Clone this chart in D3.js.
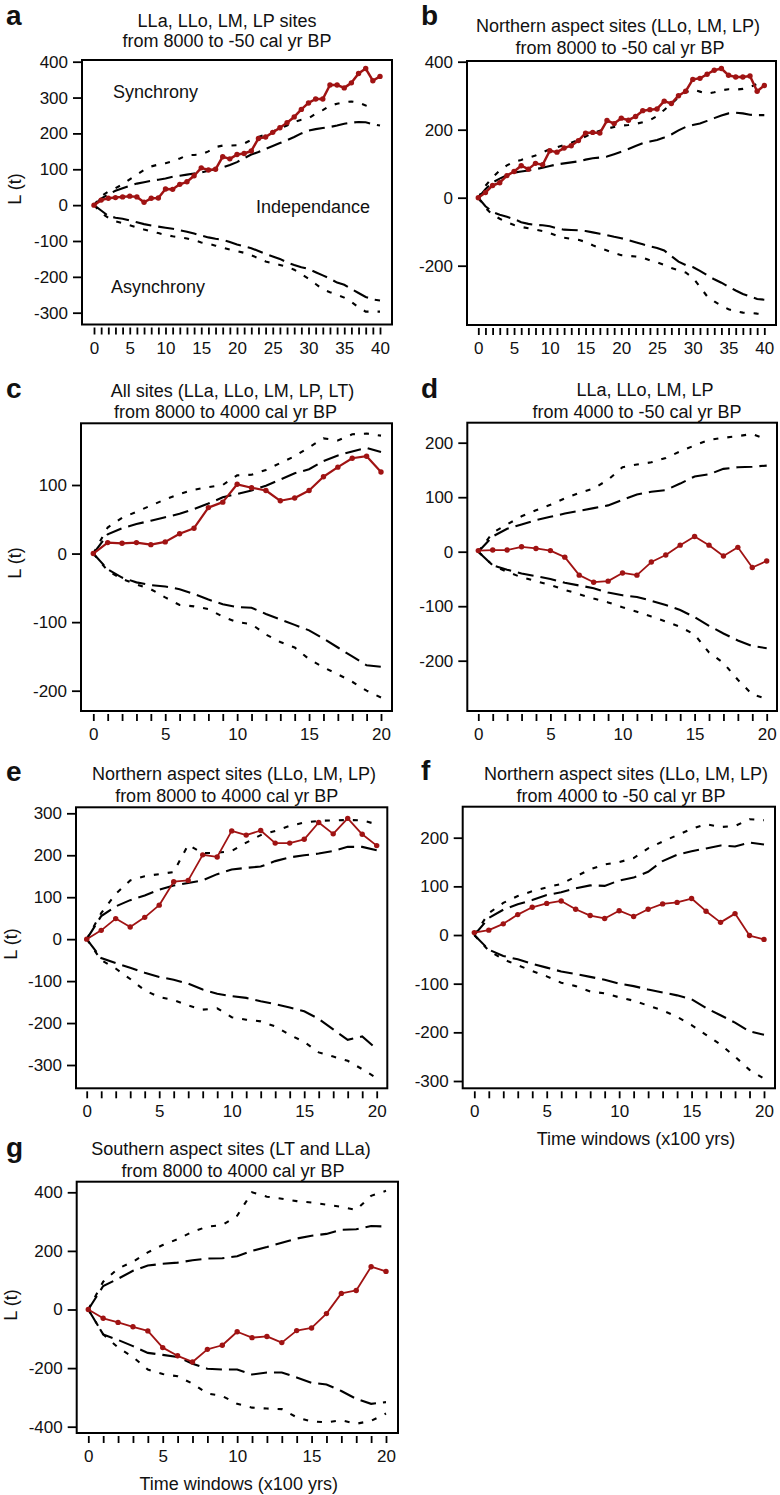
<!DOCTYPE html>
<html>
<head>
<meta charset="utf-8">
<script src="https://cdn.jsdelivr.net/npm/d3@7"></script>
<style>
  body { margin: 0; background: #fff; }
  svg text { font-family: "Liberation Sans", Arial, sans-serif; fill: #111; }
</style>
</head>
<body>
<div id="chart"></div>
<script>

// a) LLa, LLo, LM, LP, 8000 to -50
const obsA = [0,14,19,21,23,25,23,8,19,20,45,44,58,65,82,104,98,100,135,129,141,144,151,186,190,203,216,230,246,267,285,296,296,335,335,327,341,367,381,347,359];
const hiDotA = [0,25,38,47,58,72,85,98,108,113,117,122,130,139,140,141,150,162,166,166,167,172,182,190,197,205,214,222,232,238,242,255,265,277,283,287,289,286,278,272];
const hiDashA = [0,18,30,40,47,54,60,64,68,71,74,79,82,85,88,91,96,100,105,112,120,131,141,148,157,165,173,181,190,200,208,212,215,218,222,227,230,232,231,226,222];
const loDashA = [0,-15,-30,-35,-38,-43,-48,-53,-57,-60,-63,-66,-70,-74,-79,-85,-90,-94,-97,-103,-110,-115,-120,-128,-136,-143,-150,-160,-167,-173,-178,-187,-196,-205,-216,-222,-234,-245,-256,-263,-266];
const loDotA = [0,-22,-35,-45,-50,-56,-62,-68,-73,-78,-83,-87,-90,-93,-98,-104,-108,-113,-119,-124,-128,-133,-140,-148,-157,-162,-167,-172,-180,-192,-205,-220,-235,-243,-250,-258,-270,-285,-297,-297,-297];

// b) Northern aspect, 8000 to -50
const obsB = [0,15,36,44,65,77,94,84,101,97,138,134,146,153,168,190,192,190,227,218,234,228,239,256,259,261,284,277,300,313,348,351,363,375,380,360,355,355,358,313,330];
const hiDotB = [0,35,60,80,95,106,111,118,124,133,143,148,155,162,170,180,190,197,203,208,212,214,217,222,228,240,258,276,295,310,318,312,306,310,316,319,318,320,325,335,330];
const hiDashB = [0,25,45,56,66,74,77,80,84,88,93,98,101,104,107,112,116,118,121,128,135,143,152,160,165,170,177,186,198,208,214,218,226,234,242,248,250,248,244,243,243];
const loDashB = [0,-25,-42,-50,-56,-63,-72,-77,-80,-81,-84,-90,-94,-95,-96,-98,-102,-106,-110,-115,-119,-125,-131,-137,-143,-148,-155,-172,-188,-198,-204,-215,-228,-240,-250,-262,-273,-283,-290,-298,-300];
const loDotB = [0,-30,-50,-62,-72,-80,-86,-90,-94,-98,-104,-112,-118,-121,-124,-130,-140,-148,-155,-163,-169,-171,-173,-176,-184,-190,-198,-207,-213,-220,-235,-262,-290,-305,-318,-328,-334,-338,-339,-341,-342];

// c) All sites, 8000 to 4000
const obsC = [0,16,15,16,13,17,29,37,67,75,101,96,92,77,81,92,112,126,139,142,119];
const hiDotC = [0,38,52,61,70,79,87,93,97,100,114,115,122,132,142,155,168,165,174,175,172];
const hiDashC = [0,28,37,43,48,53,58,65,73,82,87,92,99,108,117,123,135,143,149,154,148];
const loDashC = [0,-23,-35,-42,-46,-48,-52,-59,-67,-74,-78,-79,-88,-96,-104,-112,-124,-137,-150,-163,-165];
const loDotC = [0,-25,-37,-45,-52,-64,-75,-77,-81,-92,-100,-103,-118,-129,-137,-154,-166,-176,-187,-200,-210];

// d) LLa, LLo, LM, LP, 4000 to -50
const obsD = [2,3,3,9,6,2,-10,-43,-56,-54,-39,-43,-19,-6,12,28,12,-8,8,-29,-17];
const hiDotD = [0,35,50,65,76,86,98,108,116,132,155,160,164,172,184,195,205,209,212,216,206];
const hiDashD = [0,28,42,50,58,64,70,75,80,85,95,105,110,113,125,138,142,152,155,156,158];
const loDashD = [0,-25,-33,-40,-45,-50,-57,-62,-67,-75,-80,-83,-90,-98,-107,-120,-136,-150,-163,-173,-177];
const loDotD = [0,-25,-37,-47,-54,-61,-70,-78,-86,-93,-102,-110,-119,-128,-138,-152,-185,-204,-235,-262,-270];

// e) Northern aspect, 8000 to 4000
const obsE = [0,21,49,29,52,81,137,140,201,196,258,248,259,229,229,238,278,251,288,250,223];
const hiDotE = [0,62,108,140,150,155,160,225,205,206,210,230,248,258,270,278,282,283,284,283,274];
const hiDashE = [0,55,78,93,104,118,128,134,140,155,166,170,173,186,195,200,204,210,220,220,212];
const loDashE = [0,-45,-57,-68,-80,-90,-97,-106,-120,-130,-136,-140,-148,-155,-163,-172,-190,-215,-240,-232,-262];
const loDotE = [0,-50,-70,-95,-122,-138,-145,-158,-168,-165,-186,-192,-196,-208,-228,-245,-270,-280,-290,-310,-331];

// f) Northern aspect, 4000 to -50
const obsF = [5,10,23,42,57,65,70,53,40,34,50,38,53,64,67,75,49,26,44,-1,-9];
const hiDotF = [0,45,66,80,90,98,105,120,135,145,150,158,178,192,205,218,228,222,224,238,236];
const hiDashF = [0,35,52,63,72,82,88,96,102,101,112,118,130,152,165,172,178,184,182,190,186];
const loDashF = [0,-30,-43,-50,-59,-67,-75,-80,-86,-92,-100,-105,-112,-118,-124,-132,-150,-165,-180,-198,-205];
const loDotF = [0,-32,-50,-62,-74,-85,-98,-105,-116,-120,-128,-135,-145,-155,-168,-185,-205,-225,-250,-277,-295];

// g) Southern aspect, 8000 to 4000
const obsG = [0,-30,-44,-59,-73,-130,-158,-179,-136,-122,-76,-96,-92,-113,-72,-63,-14,55,65,146,130];
const hiDotG = [0,95,140,163,195,220,240,265,283,288,320,400,385,378,370,365,358,350,340,388,405];
const hiDashG = [0,80,105,132,150,156,160,168,174,175,182,200,213,228,242,252,258,272,274,285,283];
const loDashG = [0,-85,-104,-125,-148,-155,-162,-185,-202,-205,-205,-222,-215,-215,-232,-250,-256,-278,-305,-322,-316];
const loDotG = [0,-85,-130,-162,-205,-220,-228,-253,-287,-295,-322,-335,-338,-340,-368,-382,-385,-378,-390,-380,-355];

const titlesA = ["LLa, LLo, LM, LP sites", "from 8000 to -50 cal yr BP"];
const titlesB = ["Northern aspect sites (LLo, LM, LP)", "from 8000 to -50 cal yr BP"];
const titlesC = ["All sites (LLa, LLo, LM, LP, LT)", "from 8000 to 4000 cal yr BP"];
const titlesD = ["LLa, LLo, LM, LP", "from 4000 to -50 cal yr BP"];
const titlesE = ["Northern aspect sites (LLo, LM, LP)", "from 8000 to 4000 cal yr BP"];
const titlesF = ["Northern aspect sites (LLo, LM, LP)", "from 4000 to -50 cal yr BP"];
const titlesG = ["Southern aspect sites (LT and LLa)", "from 8000 to 4000 cal yr BP"];

const yTicksA = [-300,-200,-100,0,100,200,300,400];
const yTicksB = [-200,0,200,400];
const yTicksC = [-200,-100,0,100];
const yTicksD = [-200,-100,0,100,200];
const yTicksE = [-300,-200,-100,0,100,200,300];
const yTicksF = [-300,-200,-100,0,100,200];
const yTicksG = [-400,-200,0,200,400];

const red = "#a01313";
const width = 780, height = 1495;

// layout of each panel: frame box, pixel positions of x = 0 / xmax, two y reference values
const panels = [
  { id: "a", obs: obsA, env: [hiDotA, hiDashA, loDashA, loDotA], titles: titlesA, yTicks: yTicksA, xmax: 40,
    box: [82, 392, 60, 324.5], xr: [94, 380], yd: [400, -300], yr: [61.7, 312.7], lw: 2.5,
    letter: [6, 25], t1: [227, 26.7], t2: [227, 47.3], ylab: [15, 189] },
  { id: "b", obs: obsB, env: [hiDotB, hiDashB, loDashB, loDotB], titles: titlesB, yTicks: yTicksB, xmax: 40,
    box: [467, 776, 61, 325], xr: [478.3, 764.3], yd: [400, -200], yr: [61.7, 265.7], lw: 2.5,
    letter: [421, 25], t1: [618, 31.7], t2: [620, 54] },
  { id: "c", obs: obsC, env: [hiDotC, hiDashC, loDashC, loDotC], titles: titlesC, yTicks: yTicksC, xmax: 20,
    box: [81, 392, 423.3, 711], xr: [93.3, 381], yd: [100, -200], yr: [485, 690.7], lw: 2.2,
    letter: [6, 398.3], t1: [232.5, 396.7], t2: [225.5, 418.3], ylab: [15, 563] },
  { id: "d", obs: obsD, env: [hiDotD, hiDashD, loDashD, loDotD], titles: titlesD, yTicks: yTicksD, xmax: 20,
    box: [467.3, 777, 422.7, 711], xr: [478.3, 766.7], yd: [200, -200], yr: [442.7, 660.7], lw: 1.8,
    letter: [421, 398.3], t1: [645, 396], t2: [637, 418.3] },
  { id: "e", obs: obsE, env: [hiDotE, hiDashE, loDashE, loDotE], titles: titlesE, yTicks: yTicksE, xmax: 20,
    box: [76, 387.3, 807.3, 1088.3], xr: [86.7, 376.7], yd: [300, -300], yr: [813.3, 1065], lw: 1.8,
    letter: [6, 780.7], t1: [234, 780], t2: [226.7, 801.7], ylab: [11, 944] },
  { id: "f", obs: obsF, env: [hiDotF, hiDashF, loDashF, loDotF], titles: titlesF, yTicks: yTicksF, xmax: 20,
    box: [462.7, 775, 806.7, 1088.3], xr: [474.3, 764], yd: [200, -300], yr: [837.7, 1081], lw: 1.8,
    letter: [421, 780], t1: [626, 780], t2: [621, 801.7], xlab: [636, 1145] },
  { id: "g", obs: obsG, env: [hiDotG, hiDashG, loDashG, loDotG], titles: titlesG, yTicks: yTicksG, xmax: 20,
    box: [76.7, 398, 1181.7, 1433], xr: [88.3, 386], yd: [400, -400], yr: [1192.3, 1426.7], lw: 1.8,
    letter: [6, 1156.7], t1: [231, 1155], t2: [233, 1176.7], ylab: [11, 1305], xlab: [238.7, 1490] }
];

// dotted = outer envelope, dashed = inner envelope
const envStyle = ["5,9", "16,7", "16,7", "5,9"];

const svg = d3.select("#chart")
  .append("svg")
  .attr("width", width)
  .attr("height", height);

panels.forEach(p => {
  const g = svg.append("g");
  const [bx0, bx1, by0, by1] = p.box;

  const x = d3.scaleLinear().domain([0, p.xmax]).range(p.xr);
  const y = d3.scaleLinear().domain(p.yd).range(p.yr);

  // envelopes
  p.env.forEach((arr, k) => {
    const line = d3.line().x((d, i) => x(i)).y(d => y(d));
    g.append("path")
      .attr("d", line(arr))
      .attr("fill", "none")
      .attr("stroke", "#000")
      .attr("stroke-width", 2.1)
      .attr("stroke-dasharray", envStyle[k]);
  });

  // observed series
  const obsLine = d3.line().x((d, i) => x(i)).y(d => y(d));
  g.append("path")
    .attr("d", obsLine(p.obs))
    .attr("fill", "none")
    .attr("stroke", red)
    .attr("stroke-width", p.lw)
    .attr("stroke-linejoin", "round");
  g.selectAll("circle")
    .data(p.obs)
    .enter()
    .append("circle")
    .attr("cx", (d, i) => x(i))
    .attr("cy", d => y(d))
    .attr("r", 2.7)
    .attr("fill", red);

  // frame
  g.append("rect")
    .attr("x", bx0).attr("y", by0)
    .attr("width", bx1 - bx0).attr("height", by1 - by0)
    .attr("fill", "none")
    .attr("stroke", "#000")
    .attr("stroke-width", 2);

  // y axis on the frame, plain hyphen for negatives
  const yAxis = d3.axisLeft(y).tickValues(p.yTicks).tickSize(9).tickPadding(5)
    .tickFormat(d => String(d));
  const ya = g.append("g")
    .attr("transform", `translate(${bx0},0)`)
    .call(yAxis);
  ya.select(".domain").remove();
  ya.selectAll("line").attr("stroke", "#000").attr("stroke-width", 1.8);
  ya.selectAll("text").attr("font-size", 17).attr("font-family", "Liberation Sans, Arial, sans-serif").attr("fill", "#111");

  // x axis detached below the frame, no axis line
  const xAxis = d3.axisBottom(x)
    .tickValues(d3.range(0, p.xmax + 1))
    .tickSize(7)
    .tickPadding(7)
    .tickFormat(d => d % 5 === 0 ? String(d) : "");
  const xa = g.append("g")
    .attr("transform", `translate(0,${by1 + 3})`)
    .call(xAxis);
  xa.select(".domain").remove();
  xa.selectAll("line").attr("stroke", "#000").attr("stroke-width", 1.8);
  xa.selectAll("text").attr("font-size", 17).attr("font-family", "Liberation Sans, Arial, sans-serif").attr("fill", "#111");

  // titles
  g.append("text").attr("x", p.t1[0]).attr("y", p.t1[1])
    .attr("text-anchor", "middle").attr("font-size", 18).text(p.titles[0]);
  g.append("text").attr("x", p.t2[0]).attr("y", p.t2[1])
    .attr("text-anchor", "middle").attr("font-size", 18).text(p.titles[1]);

  // panel letter
  g.append("text").attr("x", p.letter[0]).attr("y", p.letter[1])
    .attr("font-size", 28).attr("font-weight", "bold").text(p.id);

  if (p.ylab) {
    g.append("text")
      .attr("transform", `translate(${p.ylab[0] + 6},${p.ylab[1]}) rotate(-90)`)
      .attr("text-anchor", "middle")
      .attr("font-size", 18)
      .text("L (t)");
  }
  if (p.xlab) {
    g.append("text").attr("x", p.xlab[0]).attr("y", p.xlab[1])
      .attr("text-anchor", "middle").attr("font-size", 18)
      .text("Time windows (x100 yrs)");
  }

  if (p.id === "a") {
    g.append("text").attr("x", 113).attr("y", 98.3).attr("font-size", 18).text("Synchrony");
    g.append("text").attr("x", 256).attr("y", 213.3).attr("font-size", 18).text("Independance");
    g.append("text").attr("x", 111).attr("y", 293.3).attr("font-size", 18).text("Asynchrony");
  }
});
</script>
</body>
</html>
